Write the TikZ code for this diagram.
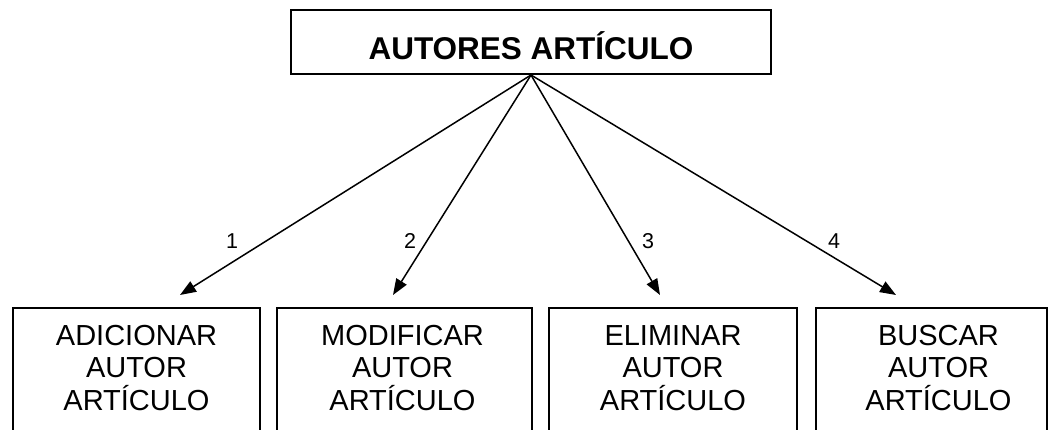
\documentclass[tikz,border=0pt]{standalone}
\usepackage{fontspec}
\setmainfont{Liberation Sans}
\usetikzlibrary{arrows.meta,positioning}

\tikzset{
    mainbox/.style={draw, line width=2pt, minimum width=480pt, minimum height=64pt,
        inner sep=0pt, text height=36pt, text depth=0pt,
        font=\fontsize{31.5}{36}\selectfont\bfseries},
    opbox/.style={draw, line width=2pt, minimum height=150pt, anchor=north, inner sep=0pt},
    optext/.style={align=center, inner sep=0pt, font=\fontsize{29}{32.5}\selectfont},
    optag/.style={inner sep=0pt, font=\fontsize{21.5}{24}\selectfont},
    oparrow/.style={-{Triangle[length=16pt,width=12pt]}, line width=1.5pt},
}

\begin{document}
\begin{tikzpicture}[x=1pt, y=-1pt]
    \useasboundingbox (0,0) rectangle (1055,430);

    % root
    \node[mainbox] (autores) at (531,42) {AUTORES ARTÍCULO};

    % operations
    \node[opbox, minimum width=247pt] (adicionar) at (136.5,307) {};
    \node[opbox, minimum width=255pt] (modificar) at (404.5,307) {};
    \node[opbox, minimum width=248pt] (eliminar) at (673,307) {};
    \node[opbox, minimum width=231pt] (buscar) at (931.5,307) {};

    \node[optext, below=18pt of adicionar.north] (adicionarT) {ADICIONAR\\AUTOR\\ARTÍCULO};
    \node[optext, below=18pt of modificar.north, xshift=-2pt] (modificarT) {MODIFICAR\\AUTOR\\ARTÍCULO};
    \node[optext, below=18pt of eliminar.north] (eliminarT) {ELIMINAR\\AUTOR\\ARTÍCULO};
    \node[optext, below=18pt of buscar.north, xshift=7pt] (buscarT) {BUSCAR\\AUTOR\\ARTÍCULO};

    % arrow ends
    \coordinate (adicionarIn) at (180,295);
    \coordinate (modificarIn) at (393,295);
    \coordinate (eliminarIn) at (660,295);
    \coordinate (buscarIn) at (896,295);

    \draw[oparrow] (autores.south) -- (adicionarIn);
    \draw[oparrow] (autores.south) -- (modificarIn);
    \draw[oparrow] (autores.south) -- (eliminarIn);
    \draw[oparrow] (autores.south) -- (buscarIn);

    \node[optag] (tag1) at (232,241) {1};
    \node[optag] (tag2) at (410,241) {2};
    \node[optag] (tag3) at (648,241) {3};
    \node[optag] (tag4) at (834,241) {4};
\end{tikzpicture}
\end{document}
